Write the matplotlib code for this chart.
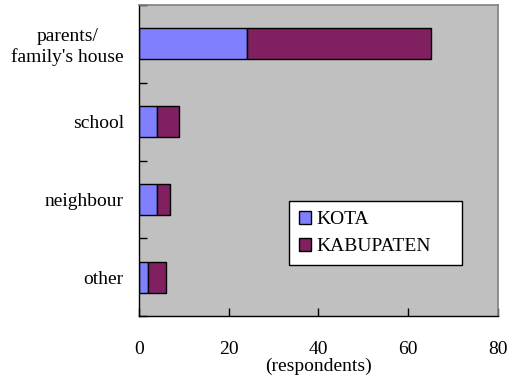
import numpy as np
import matplotlib.pyplot as plt
from matplotlib.ticker import FixedLocator

plt.rcParams['font.family'] = ['Liberation Serif', 'DejaVu Serif']
plt.rcParams['font.size'] = 14

# Where respondents get their information
categories = ["parents/\nfamily's house", "school", "neighbour", "other"]
kota = [24, 4, 4, 2]
kabupaten = [41, 5, 3, 4]
x_ticks = [0, 20, 40, 60, 80]

fig = plt.figure(figsize=(5.17, 3.80), dpi=100)
ax = fig.add_axes([0.269, 0.168, 0.694, 0.819])
ax.set_facecolor('#c0c0c0')

y = np.arange(len(categories))[::-1]
ax.barh(y, kota, height=0.4, color='#8080ff', edgecolor='black', linewidth=1,
        label='KOTA')
ax.barh(y, kabupaten, left=kota, height=0.4, color='#802060', edgecolor='black',
        linewidth=1, label='KABUPATEN')

ax.set_xlim(0, 80)
ax.set_ylim(-0.5, len(categories) - 0.5)
ax.set_xticks(x_ticks)
ax.set_yticks(y)
ax.set_yticklabels(categories, ha='right', multialignment='center')
ax.tick_params(axis='y', length=0, pad=11)
ax.yaxis.set_minor_locator(FixedLocator(np.arange(-0.5, len(categories), 1)))
ax.tick_params(axis='y', which='minor', direction='in', length=6, width=1)
ax.tick_params(axis='x', direction='in', length=6, width=1, pad=18)

for side in ('top', 'right'):
    ax.spines[side].set_color('#808080')
    ax.spines[side].set_linewidth(1.2)
for side in ('left', 'bottom'):
    ax.spines[side].set_color('black')
    ax.spines[side].set_linewidth(1)

ax.set_xlabel('(respondents)', labelpad=0)

leg = ax.legend(loc='lower left', bbox_to_anchor=(0.418, 0.164, 0.482, 0.206),
                mode='expand', fancybox=False, framealpha=1, edgecolor='black',
                handlelength=0.65, handleheight=0.65, handletextpad=0.25,
                labelspacing=0.5, borderpad=0.5, borderaxespad=0)
leg.get_frame().set_linewidth(1)
leg._legend_box.align = 'left'

fig.savefig('out.png', dpi=100)
